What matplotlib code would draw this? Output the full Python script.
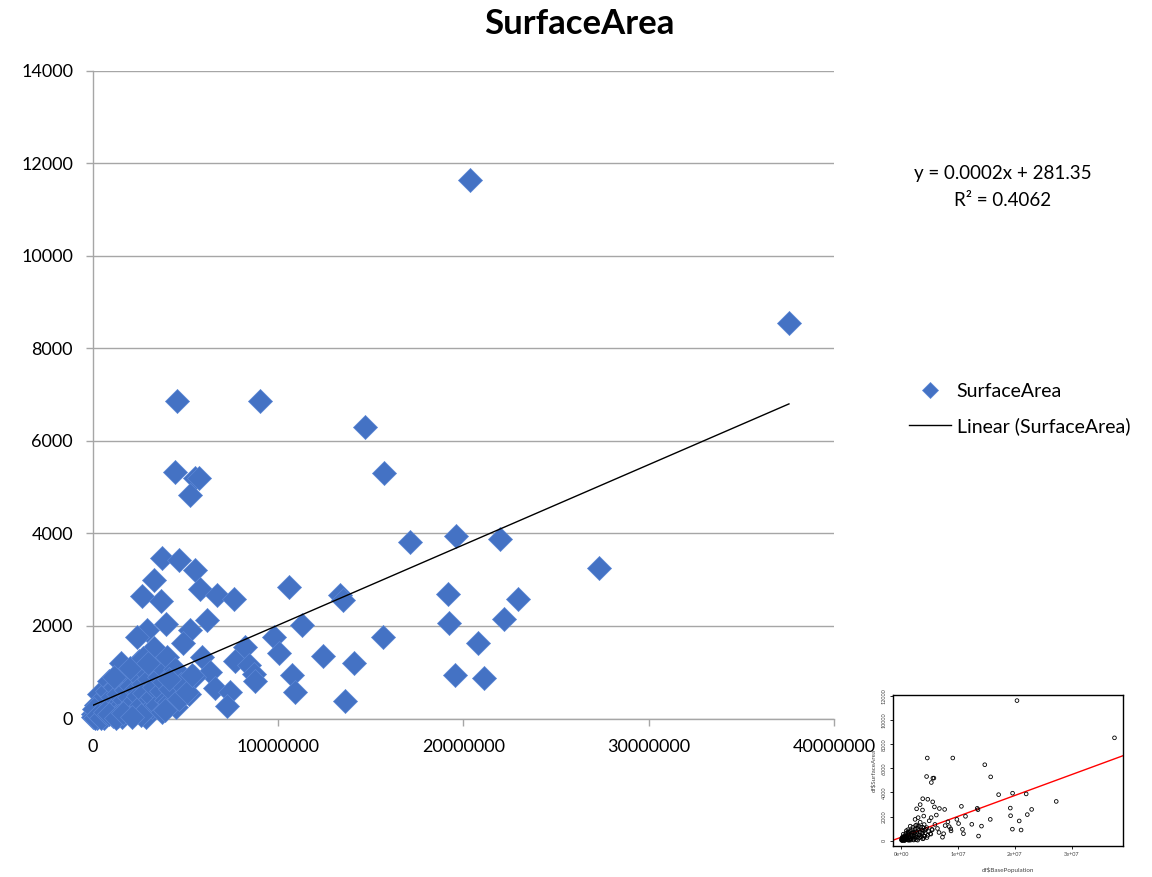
import numpy as np
import matplotlib

matplotlib.use("Agg")
import matplotlib.pyplot as plt
from matplotlib.lines import Line2D

plt.rcParams["font.family"] = ["Lato", "DejaVu Sans"]

# base population (millions) and surface area
pop_m = [
    20.38, 37.57, 4.56, 9.06, 14.70, 15.74, 4.44, 5.55, 5.73, 5.28,
    17.14, 19.60, 22.00, 27.30, 19.20, 22.96, 22.20, 19.25, 15.67, 20.77,
    19.57, 21.10, 5.52, 3.76, 4.65, 3.31, 2.68, 3.72, 5.82, 6.70,
    7.62, 10.58, 13.37, 13.50, 6.16, 3.94, 2.95, 2.41, 5.25, 4.90,
    11.30, 9.78, 8.20, 10.08, 12.41, 14.12, 3.31, 5.91, 1.56, 7.71,
    8.43, 8.70, 10.77, 6.36, 5.45, 8.75, 10.94, 6.63, 7.44, 5.19,
    7.24, 13.60,
    0.05, 0.10, 0.15, 0.20, 0.25, 0.30, 0.34, 0.40, 0.45, 0.50,
    0.55, 0.60, 0.70, 0.75, 0.80, 0.88, 0.95, 1.00, 1.06, 1.10,
    1.20, 1.24, 1.30, 1.35, 1.42, 1.50, 1.55, 1.60, 1.70, 1.80,
    1.90, 1.96, 1.96, 2.05, 2.10, 2.20, 2.32, 2.32, 2.40, 2.45,
    2.50, 2.60, 2.70, 2.80, 2.86, 2.86, 2.95, 3.05, 3.10, 3.22,
    3.22, 3.31, 3.40, 3.50, 3.60, 3.70, 3.76, 3.76, 3.85, 3.94,
    4.02, 4.11, 4.20, 4.30, 4.47, 4.50, 4.65, 4.80, 5.10, 5.37,
    0.20, 0.60, 1.15, 2.00, 2.70, 3.00, 1.40, 2.60, 3.90, 4.10,
    0.02, 0.08, 0.12, 0.30, 0.45, 0.65, 0.90, 1.25, 1.65, 2.15,
]
surface_area = [
    11650, 8550, 6870, 6870, 6310, 5300, 5330, 5190, 5200, 4830,
    3820, 3940, 3880, 3255, 2700, 2590, 2160, 2065, 1760, 1630,
    945, 875, 3220, 3480, 3435, 2990, 2640, 2540, 2800, 2665,
    2590, 2845, 2680, 2570, 2120, 2035, 1905, 1760, 1905, 1640,
    2015, 1760, 1555, 1415, 1350, 1200, 1520, 1340, 1195, 1245,
    1155, 970, 930, 1003, 895, 800, 570, 670, 570, 535,
    275, 370,
    100, 30, 60, 150, 20, 250, 530, 90, 330, 180,
    40, 420, 280, 120, 600, 820, 350, 200, 460, 60,
    700, 680, 300, 520, 245, 150, 800, 30, 400, 620,
    250, 890, 460, 700, 100, 350, 640, 170, 950, 480,
    1250, 300, 750, 550, 1000, 30, 200, 850, 420, 245,
    460, 680, 1100, 300, 900, 600, 1110, 140, 780, 400,
    1330, 350, 640, 950, 1075, 250, 430, 750, 570, 930,
    300, 10, 900, 1100, 1300, 1200, 50, 70, 180, 850,
    40, 200, 10, 80, 10, 150, 100, 20, 120, 40,
]

# trendline as drawn (label shows rounded slope)
trend_slope = 0.0001735
trend_intercept = 281.35
eq_text = "y = 0.0002x + 281.35"
r2_text = "R² = 0.4062"

x_ticks = [0, 10000000, 20000000, 30000000, 40000000]
y_ticks = [0, 2000, 4000, 6000, 8000, 10000, 12000, 14000]
inset_xticks = [0, 1e7, 2e7, 3e7]
inset_xlabels = ["0e+00", "1e+07", "2e+07", "3e+07"]
inset_yticks = [0, 2000, 4000, 6000, 8000, 10000, 12000]

pop = np.array(pop_m) * 1e6
area = np.array(surface_area, dtype=float)

W, H = 1152, 877
fig = plt.figure(figsize=(W / 100, H / 100), dpi=100)


def rect(x0, y0, x1, y1):
    return [x0 / W, 1 - y1 / H, (x1 - x0) / W, (y1 - y0) / H]


grid_col = "#a6a6a6"
ax = fig.add_axes(rect(92.5, 70.8, 834, 718.5))
ax.scatter(pop, area, marker="D", s=150, color="#4472C4",
           edgecolors="#5b87d6", linewidths=0.5, zorder=3, clip_on=False)
tx = np.array([pop.min(), pop.max()])
ax.plot(tx, trend_slope * tx + trend_intercept, color="black", lw=1.0, zorder=4)

ax.set_xlim(0, 40000000)
ax.set_ylim(0, 14000)
ax.set_xticks(x_ticks)
ax.set_xticklabels([str(v) for v in x_ticks])
ax.set_yticks(y_ticks)
ax.set_yticklabels([str(v) for v in y_ticks])
ax.yaxis.grid(True, color=grid_col, lw=1.0)
ax.set_axisbelow(True)
for side in ("top", "right"):
    ax.spines[side].set_visible(False)
for side in ("left", "bottom"):
    ax.spines[side].set_color(grid_col)
    ax.spines[side].set_linewidth(1.0)
ax.tick_params(axis="both", colors=grid_col, labelcolor="black",
               labelsize=13, length=5, width=1.0)
ax.tick_params(axis="y", pad=9)
ax.tick_params(axis="x", pad=10)

fig.text(579 / W, 1 - 24 / H, "SurfaceArea", ha="center", va="center",
         fontsize=25, fontweight="bold")
fig.text(1003 / W, 1 - 173 / H, eq_text, ha="center", va="center", fontsize=13.5)
fig.text(1003 / W, 1 - 200 / H, r2_text, ha="center", va="center", fontsize=13.5)

handles = [
    Line2D([], [], ls="none", marker="D", ms=8, color="#4472C4",
           markeredgecolor="#5b87d6", markeredgewidth=0.5),
    Line2D([], [], color="black", lw=1.0),
]
fig.legend(handles, ["SurfaceArea", "Linear (SurfaceArea)"],
           loc="center left", bbox_to_anchor=(909 / W, 1 - 409 / H),
           frameon=False, fontsize=14, handlelength=2.15, handletextpad=0.3,
           labelspacing=0.85, borderpad=0, borderaxespad=0)

# small R plot pasted at the bottom right
ins = fig.add_axes(rect(893, 695, 1123, 846))
ins.scatter(pop, area, s=7, facecolors="none", edgecolors="black",
            linewidths=0.6, zorder=3)
xr = pop.max() - pop.min()
yr = area.max() - area.min()
ins.set_xlim(pop.min() - 0.04 * xr, pop.max() + 0.04 * xr)
ins.set_ylim(area.min() - 0.04 * yr, area.max() + 0.04 * yr)
ins.axline((0, trend_intercept), slope=trend_slope, color="red", lw=1.0)
ins.set_xticks(inset_xticks)
ins.set_xticklabels(inset_xlabels)
ins.set_yticks(inset_yticks)
ins.set_yticklabels([str(v) for v in inset_yticks], rotation=90, va="center")
ins.tick_params(labelsize=4, length=2.5, width=0.6, pad=2, labelcolor="#444444")
for sp in ins.spines.values():
    sp.set_linewidth(1.0)
ins.set_xlabel("df\\$BasePopulation", fontsize=4.5, color="#444444", labelpad=7)
ins.set_ylabel("df\\$SurfaceArea", fontsize=4.5, color="#444444", labelpad=4)

fig.savefig("out.png", dpi=100)
